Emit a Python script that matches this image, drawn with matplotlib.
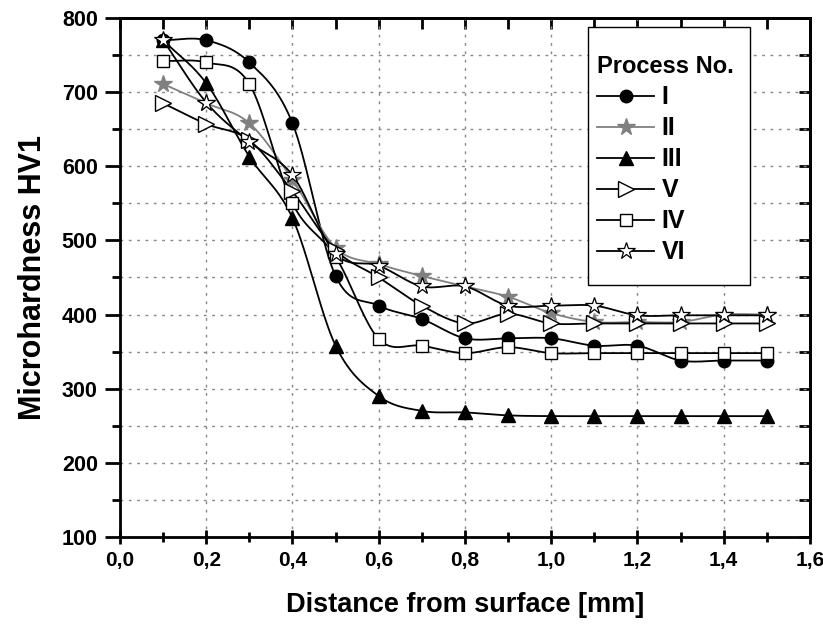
import numpy as np
import matplotlib
matplotlib.use("Agg")
import matplotlib.pyplot as plt
from matplotlib.patches import Rectangle
from matplotlib.ticker import MultipleLocator, FuncFormatter

plt.rcParams['font.family'] = ['Liberation Sans', 'DejaVu Sans']
plt.rcParams['font.weight'] = 'bold'

# distance from surface [mm]
depth = [0.1, 0.2, 0.3, 0.4, 0.5, 0.6, 0.7, 0.8, 0.9, 1.0, 1.1, 1.2, 1.3, 1.4, 1.5]

# microhardness HV1 per process
hv_I = [770, 770, 740, 658, 452, 412, 394, 368, 368, 368, 358, 358, 338, 338, 338]
hv_II = [711, 685, 658, 582, 490, 468, 452, 438, 424, 402, 390, 390, 390, 400, 400]
hv_III = [770, 712, 613, 530, 358, 290, 270, 268, 264, 263, 263, 263, 263, 263, 263]
hv_V = [685, 657, 635, 566, 487, 450, 412, 388, 401, 388, 388, 388, 388, 388, 388]
hv_IV = [742, 740, 711, 550, 478, 367, 358, 348, 356, 348, 348, 348, 348, 348, 348]
hv_VI = [770, 686, 633, 588, 482, 466, 438, 438, 412, 412, 412, 399, 399, 399, 399]

labels = ['I', 'II', 'III', 'V', 'IV', 'VI']


def smooth(x, y, xs):
    # Catmull-Rom style cubic through the measured points
    x = np.asarray(x, float)
    y = np.asarray(y, float)
    h = np.diff(x)
    n = len(x)
    m = np.zeros(n)
    m[1:-1] = (y[2:] - y[:-2]) / (x[2:] - x[:-2])
    m[0] = (y[1] - y[0]) / h[0]
    m[-1] = (y[-1] - y[-2]) / h[-1]
    idx = np.clip(np.searchsorted(x, xs) - 1, 0, n - 2)
    t = (xs - x[idx]) / h[idx]
    h00 = 2 * t**3 - 3 * t**2 + 1
    h10 = t**3 - 2 * t**2 + t
    h01 = -2 * t**3 + 3 * t**2
    h11 = t**3 - t**2
    return (h00 * y[idx] + h10 * h[idx] * m[idx]
            + h01 * y[idx + 1] + h11 * h[idx] * m[idx + 1])


fig = plt.figure(figsize=(8.23, 6.29), dpi=100)
ax = fig.add_axes([0.1458, 0.1463, 0.8384, 0.8251])

styles = [
    (hv_I, dict(color='black', marker='o', mfc='black', mec='black', ms=9)),
    (hv_II, dict(color='#808080', marker='*', mfc='#808080', mec='#808080', ms=13)),
    (hv_III, dict(color='black', marker='^', mfc='black', mec='black', ms=10)),
    (hv_V, dict(color='black', marker='>', mfc='white', mec='black', ms=11, mew=1.0)),
    (hv_IV, dict(color='black', marker='s', mfc='white', mec='black', ms=9, mew=1.0)),
    (hv_VI, dict(color='black', marker='*', mfc='white', mec='black', ms=13, mew=0.9)),
]

xs = np.linspace(depth[0], depth[-1], 500)
handles = []
for (vals, st), lab in zip(styles, labels):
    col = st['color']
    mk = {k: v for k, v in st.items() if k != 'color'}
    ax.plot(xs, smooth(depth, vals, xs), color=col, lw=1.3, zorder=2)
    ax.plot(depth, vals, ls='none', zorder=3, **mk)
    h, = ax.plot([], [], color=col, lw=1.3, label=lab, **mk)
    handles.append(h)

ax.set_xlim(0, 1.6)
ax.set_ylim(100, 800)
ax.xaxis.set_major_locator(MultipleLocator(0.2))
ax.xaxis.set_minor_locator(MultipleLocator(0.1))
ax.yaxis.set_major_locator(MultipleLocator(100))
ax.yaxis.set_minor_locator(MultipleLocator(50))
ax.xaxis.set_major_formatter(FuncFormatter(lambda v, p: f"{v:.1f}".replace('.', ',')))

ax.grid(True, which='major', axis='x', color='#888888', ls=(0, (2, 4)), lw=1.0)
ax.grid(True, which='both', axis='y', color='#888888', ls=(0, (2, 4)), lw=1.0)
ax.set_axisbelow(True)

for s in ax.spines.values():
    s.set_linewidth(2)
ax.tick_params(axis='both', which='both', width=2)
ax.tick_params(axis='y', which='major', length=11, direction='out', pad=5, labelsize=15.5)
ax.tick_params(axis='y', which='minor', length=6, direction='out')
ax.tick_params(axis='x', which='major', length=10, direction='inout', pad=5, labelsize=15)
ax.tick_params(axis='x', which='minor', length=7, direction='inout')

# top and right ticks point inward
sec_x = ax.secondary_xaxis('top')
sec_x.xaxis.set_major_locator(MultipleLocator(0.1))
sec_x.tick_params(direction='in', length=8, width=2, labeltop=False)
sec_y = ax.secondary_yaxis('right')
sec_y.yaxis.set_major_locator(MultipleLocator(50))
sec_y.tick_params(direction='in', length=8, width=2, labelright=False)
for s in list(sec_x.spines.values()) + list(sec_y.spines.values()):
    s.set_linewidth(2)

ax.set_xlabel('Distance from surface [mm]', fontsize=19.5, fontweight='bold', labelpad=16)
ax.set_ylabel('Microhardness HV1', fontsize=22, fontweight='bold', labelpad=10)

# legend frame drawn by hand so its size matches
ax.add_patch(Rectangle((0.678, 0.486), 0.235, 0.497, transform=ax.transAxes,
                       facecolor='white', edgecolor='black', lw=1.0, zorder=4))
leg = ax.legend(handles=handles, title='Process No.', loc='upper left',
                bbox_to_anchor=(0.682, 0.94), fontsize=18, title_fontsize=17,
                frameon=False, handlelength=2.3, labelspacing=0.28,
                borderpad=0.25, handletextpad=0.3, borderaxespad=0, numpoints=1)
leg.set_zorder(5)
leg.get_title().set_fontweight('bold')
leg._legend_box.align = 'left'

fig.savefig('out.png', dpi=100)
